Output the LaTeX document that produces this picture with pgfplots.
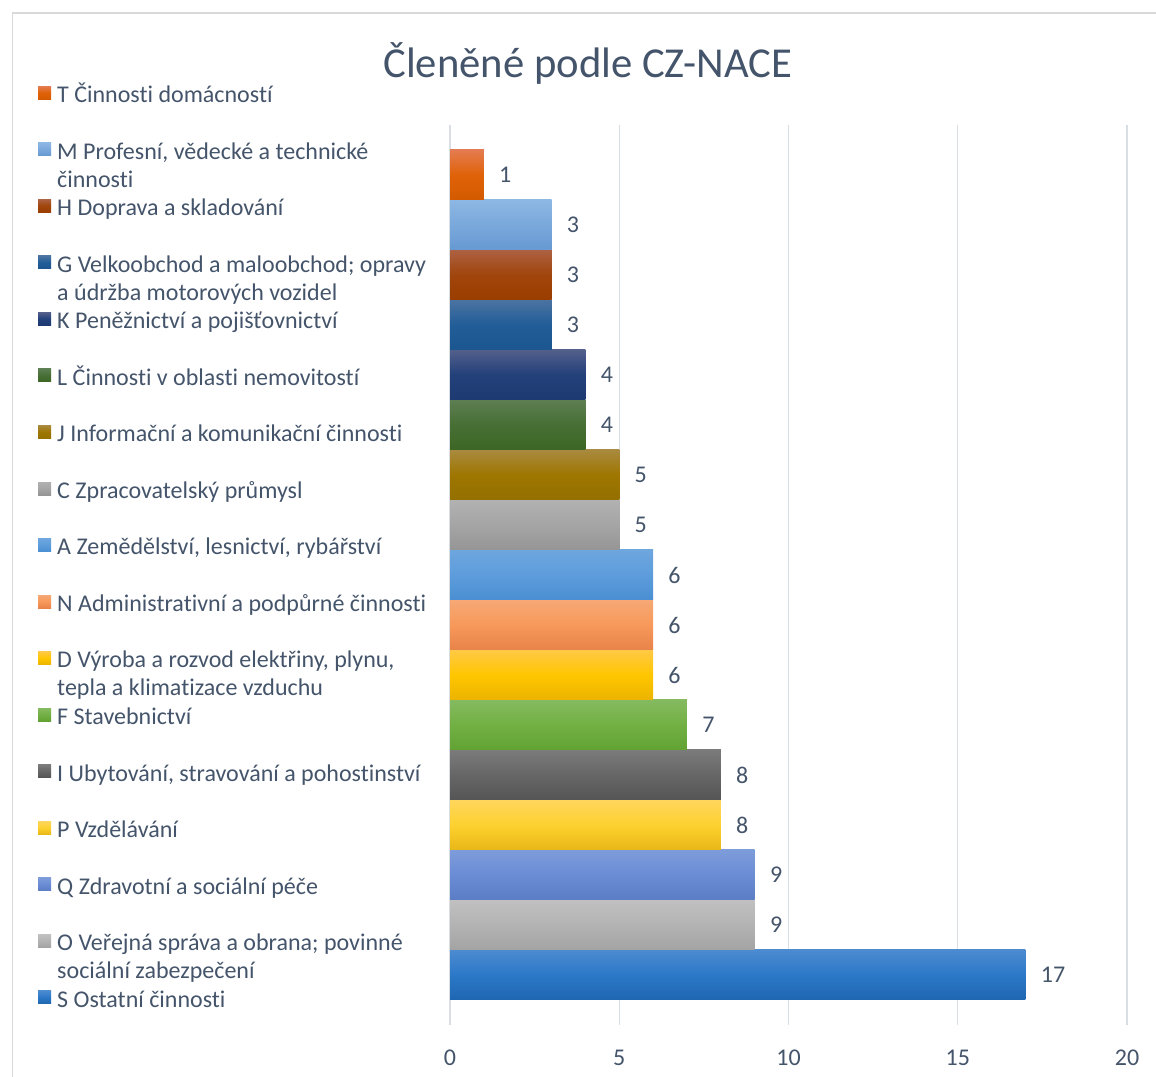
\documentclass[border=0pt]{standalone}
\usepackage{fontspec}
\setmainfont{Carlito}[Ligatures={NoCommon,NoContextual}]
\usepackage{pgfplots}
\pgfplotsset{compat=1.18}
\usepackage{xcolor}

\definecolor{slate}{HTML}{44546A}
\definecolor{gridc}{HTML}{D9DDE4}
\definecolor{framec}{HTML}{D9D9D9}

% three stops per bar: top, middle, bottom
\newcommand{\defc}[4]{%
  \definecolor{#1t}{HTML}{#2}\definecolor{#1m}{HTML}{#3}\definecolor{#1b}{HTML}{#4}}
\defc{S}{4C8BD0}{2B78C8}{1F66B0}
\defc{O}{C0C0C0}{B3B3B3}{A3A3A3}
\defc{Q}{7D9CDA}{6A8CD5}{5A7DC6}
\defc{P}{FFD65C}{FDD12F}{E7B717}
\defc{I}{7B7B7B}{666666}{555555}
\defc{F}{85BA60}{72B043}{62A233}
\defc{D}{FFC945}{FFC600}{EBB300}
\defc{N}{F6A875}{F7995A}{E8834A}
\defc{A}{6EA6DE}{5D9CDC}{4A8FD2}
\defc{C}{B1B1B1}{A5A5A5}{959595}
\defc{J}{A98A3F}{9E7600}{947000}
\defc{L}{5D7E51}{476F35}{3C6624}
\defc{K}{535F8B}{22407A}{1E3A72}
\defc{G}{4B73A1}{215D98}{1B5690}
\defc{H}{AD6142}{A0450C}{9A3E00}
\defc{M}{8DB7E4}{7AA8DB}{6699D2}
\defc{T}{E47B50}{E06208}{D35A00}

\pgfplotsset{
  sq legend/.style={legend image code/.code={\fill[##1] (0pt,-1.5pt) rectangle (9.75pt,8.25pt);}},
  bx/.style={draw=none, /pgf/bar shift=0pt,
    top color=#1t, bottom color=#1b, middle color=#1m, sq legend},
}

% two-line legend entry; only the first line counts for the row height
\newcommand{\two}[2]{\parbox[t]{12cm}{\raggedright\fontsize{18}{21}\selectfont #1\\#2}}

\begin{document}
\begin{tikzpicture}
\useasboundingbox (0,0) rectangle (867pt,807.75pt);
\draw[framec, line width=0.8pt] (9.4pt,-10pt) rectangle (900pt,798pt);
\begin{axis}[
    scale only axis,
    width=507.75pt, height=675pt,
    at={(337.5pt,39pt)}, anchor=south west,
    xbar, bar width=1,
    xmin=0, xmax=20,
    ymin=-1, ymax=17,
    xtick={0,5,10,15,20},
    ytick=\empty,
    xmajorgrids,
    grid style={gridc, line width=0.9pt},
    axis line style={draw=none},
    major tick length=0pt,
    tick label style={font=\fontsize{18}{20}\selectfont, text=slate},
    xticklabel style={yshift=-15pt},
    /pgf/number format/assume math mode=true,
    nodes near coords,
    every node near coord/.append style={anchor=west, xshift=8pt,
        font=\fontsize{18}{20}\selectfont, text=slate},
    title={Členěné podle CZ-NACE},
    title style={at={(axis description cs:0.2038,1.06)}, anchor=center,
        font=\fontsize{32}{36}\selectfont, text=slate},
    reverse legend,
    legend cell align=left,
    legend style={at={(axis description cs:-0.6086,1.0433)}, anchor=north west,
        draw=none, fill=none, inner sep=0pt, row sep=26.15pt,
        font=\fontsize{18}{21}\selectfont, text=slate,
        nodes={text height=12pt, text depth=4pt, inner sep=0pt},
        column sep=4.5pt},
]
\addplot[bx=S] coordinates {(17,0)};
\addlegendentry{S Ostatní činnosti}
\addplot[bx=O] coordinates {(9,1)};
\addlegendentry{\two{O Veřejná správa a obrana; povinné}{sociální zabezpečení}}
\addplot[bx=Q] coordinates {(9,2)};
\addlegendentry{Q Zdravotní a sociální péče}
\addplot[bx=P] coordinates {(8,3)};
\addlegendentry{P Vzdělávání}
\addplot[bx=I] coordinates {(8,4)};
\addlegendentry{I Ubytování, stravování a pohostinství}
\addplot[bx=F] coordinates {(7,5)};
\addlegendentry{F Stavebnictví}
\addplot[bx=D] coordinates {(6,6)};
\addlegendentry{\two{D Výroba a rozvod elektřiny, plynu,}{tepla a klimatizace vzduchu}}
\addplot[bx=N] coordinates {(6,7)};
\addlegendentry{N Administrativní a podpůrné činnosti}
\addplot[bx=A] coordinates {(6,8)};
\addlegendentry{A Zemědělství, lesnictví, rybářství}
\addplot[bx=C] coordinates {(5,9)};
\addlegendentry{C Zpracovatelský průmysl}
\addplot[bx=J] coordinates {(5,10)};
\addlegendentry{J Informační a komunikační činnosti}
\addplot[bx=L] coordinates {(4,11)};
\addlegendentry{L Činnosti v oblasti nemovitostí}
\addplot[bx=K] coordinates {(4,12)};
\addlegendentry{K Peněžnictví a pojišťovnictví}
\addplot[bx=G] coordinates {(3,13)};
\addlegendentry{\two{G Velkoobchod a maloobchod; opravy}{a údržba motorových vozidel}}
\addplot[bx=H] coordinates {(3,14)};
\addlegendentry{H Doprava a skladování}
\addplot[bx=M] coordinates {(3,15)};
\addlegendentry{\two{M Profesní, vědecké a technické}{činnosti}}
\addplot[bx=T] coordinates {(1,16)};
\addlegendentry{T Činnosti domácností}
\end{axis}
\end{tikzpicture}
\end{document}
